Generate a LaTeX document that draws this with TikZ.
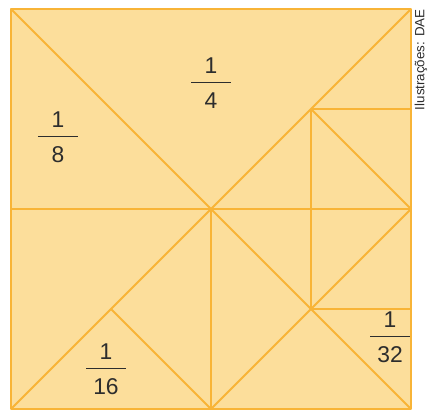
\documentclass[tikz,border=0pt]{standalone}
\usepackage{fontspec}
\setmainfont{Liberation Sans}
\usepackage{tikz}
\definecolor{fundo}{RGB}{252,222,155}
\definecolor{traco}{RGB}{248,180,55}
\definecolor{texto}{RGB}{45,45,45}
\newcommand{\fracao}[2]{#1\\\rule[4.25pt]{0.8cm}{0.8pt}\\#2}

\begin{document}
\begin{tikzpicture}[
  x=2cm,y=2cm,
  linha/.style={draw=traco,line width=1.1pt,line join=round},
  rotulo/.style={align=center,inner sep=0pt,text=texto,
                 font=\fontsize{13}{10}\selectfont}
]
  \useasboundingbox (-0.11,-0.01) rectangle (4.19,4.09);

  % Quadrado
  \fill[fundo] (0,0) rectangle (4,4);

  % Diagonais e medianas
  \draw[linha] (0,4) -- (4,0);
  \draw[linha] (0,0) -- (4,4);
  \draw[linha] (0,2) -- (4,2);
  \draw[linha] (2,0) -- (2,2);

  % Metade de baixo
  \draw[linha] (1,1) -- (2,0) -- (3,1);

  % Canto direito
  \draw[linha] (3,1) -- (3,3);
  \draw[linha] (3,3) -- (4,3);
  \draw[linha] (3,1) -- (4,1);
  \draw[linha] (3,3) -- (4,2) -- (3,1);

  % Contorno
  \draw[linha] (0,0) rectangle (4,4);

  % Fracoes
  \node[rotulo] (q4) at (2,3.26) {\fracao{1}{4}};
  \node[rotulo] (q8) at (0.47,2.72) {\fracao{1}{8}};
  \node[rotulo] (q16) at (0.95,0.40) {\fracao{1}{16}};
  \node[rotulo] (q32) at (3.79,0.72) {\fracao{1}{32}};

  % Credito
  \node[rotate=90,anchor=east,inner sep=0pt,text=texto,
        font=\fontsize{7.6}{8}\selectfont] (cred) at (4.10,4) {Ilustrações: DAE};
\end{tikzpicture}
\end{document}
